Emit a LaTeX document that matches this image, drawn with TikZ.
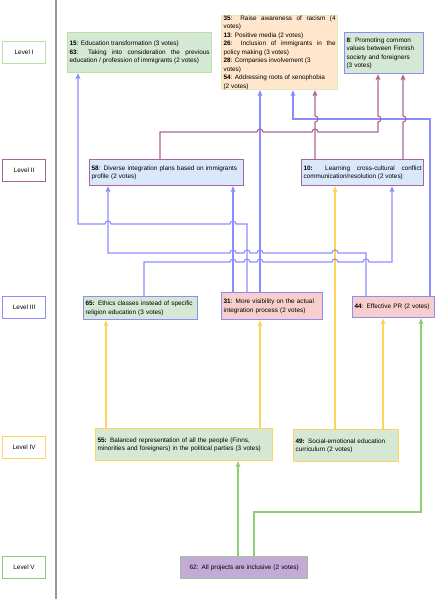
\documentclass[tikz,border=0pt]{standalone}
\usepackage{fontspec}
\setmainfont{Liberation Sans}
\usepackage{tikz}
\usetikzlibrary{
  positioning,
  calc,
  arrows.meta
}
\definecolor{lnblue}{RGB}{140,140,255}
\definecolor{lnmauve}{RGB}{170,100,150}
\definecolor{lnyellow}{RGB}{255,212,90}
\definecolor{lngreen}{RGB}{145,205,115}
\definecolor{fgreen}{HTML}{D5E8D4}
\definecolor{forange}{HTML}{FFE6CC}
\definecolor{fblue}{HTML}{DAE8FC}
\definecolor{fred}{HTML}{F8CECC}
\definecolor{fpurple}{RGB}{195,170,215}
\definecolor{bgreen}{RGB}{185,224,165}
\definecolor{bpale}{RGB}{222,235,185}
\definecolor{bgray}{RGB}{165,190,155}
\hyphenpenalty=10000
\tolerance=9999
\tikzstyle{box}=[draw, line width=1.2pt, anchor=north west, inner xsep=2pt, inner ysep=0pt, font=\fontsize{6.4}{8.5}\selectfont, align=left]
\tikzstyle{level}=[box, fill=white, minimum width=43pt, minimum height=22pt, align=center]
\tikzstyle{link}=[line width=1.1pt, -{Stealth[length=6pt, width=5pt, inset=1.5pt]}]
\tikzstyle{sep}=[line width=2pt, color=black!40]

\begin{document}
\begin{tikzpicture}[x=1pt, y=-1pt]
    \def\jr{3} % ジャンプの半径
    \useasboundingbox (0,0) rectangle (436,599);

    % 区切り線
    \draw[sep] (56,0) -- (56,599);

    % レベルの箱
    \node[level, draw=bgreen] (L1) at (2,41) {Level I};
    \node[level, draw=lnmauve] (L2) at (2,159) {Level II};
    \node[level, draw=lnblue] (L3) at (2,296) {Level III};
    \node[level, draw=lnyellow] (L4) at (2,436) {Level IV};
    \node[level, draw=lngreen] (L5) at (2,556) {Level V};

    % Level I
    \node[box, fill=fgreen, draw=bgreen, text width=140pt, minimum height=40pt, align=justify] (B15) at (67,32)
      {\textbf{15}: Education transformation (3 votes)\\
       \textbf{63}: Taking into consideration the previous\linebreak education / profession of immigrants (2 votes)};
    \node[box, fill=forange, draw=bpale, text width=112pt, minimum height=73pt, align=justify] (B35) at (221,15)
      {\textbf{35}: Raise awareness of racism (4\linebreak votes)\\
       \textbf{13}: Positive media (2 votes)\\
       \textbf{26}: Inclusion of immigrants in the\linebreak policy making (3 votes)\\
       \textbf{28}: Companies involvement (3\\ votes)\\
       \textbf{54}: Addressing roots of xenophobia\\ (2 votes)};
    \node[box, fill=fgreen, draw=lnblue, text width=75pt, minimum height=41pt] (B8) at (344,32)
      {\textbf{8}: Promoting common\\ values between Finnish\\ society and foreigners\\ (3 votes)};

    % Level II
    \node[box, fill=fblue, draw=lnmauve, text width=150pt, minimum height=26pt] (B58) at (89,159)
      {\textbf{58}: Diverse integration plans based on immigrants\\ profile (2 votes)};
    \node[box, fill=fblue, draw=lnmauve, text width=118pt, minimum height=26pt, align=justify] (B10) at (301,159)
      {\textbf{10:} Learning cross-cultural conflict\linebreak communication/resolution (2 votes)};

    % Level III
    \node[box, fill=fgreen, draw=lnblue, text width=110pt, minimum height=23pt] (B65) at (83,296)
      {\textbf{65:} Ethics classes instead of specific\\ religion education (3 votes)};
    \node[box, fill=fred, draw=lnblue, text width=97pt, minimum height=27pt] (B31) at (221,292)
      {\textbf{31}: More visibility on the actual\\ integration process (2 votes)};
    \node[box, fill=fred, draw=lnblue, text width=78pt, minimum height=21pt] (B44) at (352,296)
      {\textbf{44}: Effective PR (2 votes)};

    % Level IV
    \node[box, fill=fgreen, draw=lnyellow, text width=173pt, minimum height=32pt] (B55) at (95,428)
      {\textbf{55:} Balanced representation of all the people (Finns,\\ minorities and foreigners) in the political parties (3 votes)};
    \node[box, fill=fgreen, draw=lnyellow, text width=101pt, minimum height=32pt] (B49) at (293,429)
      {\textbf{49:} Social-emotional education\\ curriculum (2 votes)};

    % Level V
    \node[box, fill=fpurple, draw=bgray, text width=123pt, minimum height=22pt, align=center] (B62) at (180,556)
      {62: All projects are inclusive (2 votes)};

    % 緑の矢印 (62から)
    \draw[link, lngreen] (B62.north -| 238,0) -- (B55.south -| 238,0);
    \draw[link, lngreen] (B62.north -| 254,0) |- (421,512) -- (B44.south -| 421,0);

    % 黄色の矢印 (Level IVから)
    \draw[link, lnyellow] (B55.north -| 106,0) -- (B65.south -| 106,0);
    \draw[link, lnyellow] (B55.north -| 260,0) -- (B31.south -| 260,0);
    \draw[link, lnyellow] (B49.north -| 335,0) -- (B10.south -| 335,0);
    \draw[link, lnyellow] (B49.north -| 383,0) -- (B44.south -| 383,0);

    % 青の矢印 (Level IIIから)
    \draw[link, lnblue] (B31.north -| 233,0) -- (B58.south -| 233,0);
    \draw[link, lnblue] (B31.north -| 260,0) -- (B35.south -| 260,0);
    \draw[link, lnblue] (B31.north -| 247,0) -- (247,224)
      \foreach \x in {233,108} {-- (\x+\jr,224) arc[start angle=0, end angle=180, radius=\jr pt]}
      -- (78,224) -- (B15.south -| 78,0);
    \draw[link, lnblue] (B44.north -| 366,0) -- (366,253)
      \foreach \x in {335,260,247,233} {-- (\x+\jr,253) arc[start angle=0, end angle=180, radius=\jr pt]}
      -- (108,253) -- (B58.south -| 108,0);
    \draw[link, lnblue] (B65.north -| 144,0) -- (144,262)
      \foreach \x in {233,247,260,335,366} {-- (\x-\jr,262) arc[start angle=180, end angle=0, radius=\jr pt]}
      -- (392,262) -- (B10.south -| 392,0);
    \draw[link, lnblue] (B44.north -| 430,0) |- (293,119) -- (B35.south -| 293,0);

    % 紫の矢印 (Level IIから)
    \draw[link, lnmauve] (B10.north -| 315,0) -- (315,119+\jr)
      arc[start angle=-90, end angle=90, radius=\jr pt] -- (B35.south -| 315,0);
    \draw[link, lnmauve] (B10.north -| 403,0) -- (403,119+\jr)
      arc[start angle=-90, end angle=90, radius=\jr pt] -- (B8.south -| 403,0);
    \draw[link, lnmauve] (B58.north -| 160,0) -- (160,132)
      \foreach \x in {260,315} {-- (\x-\jr,132) arc[start angle=180, end angle=0, radius=\jr pt]}
      -- (378,132) -- (378,119+\jr) arc[start angle=-90, end angle=90, radius=\jr pt] -- (B8.south -| 378,0);
\end{tikzpicture}
\end{document}
